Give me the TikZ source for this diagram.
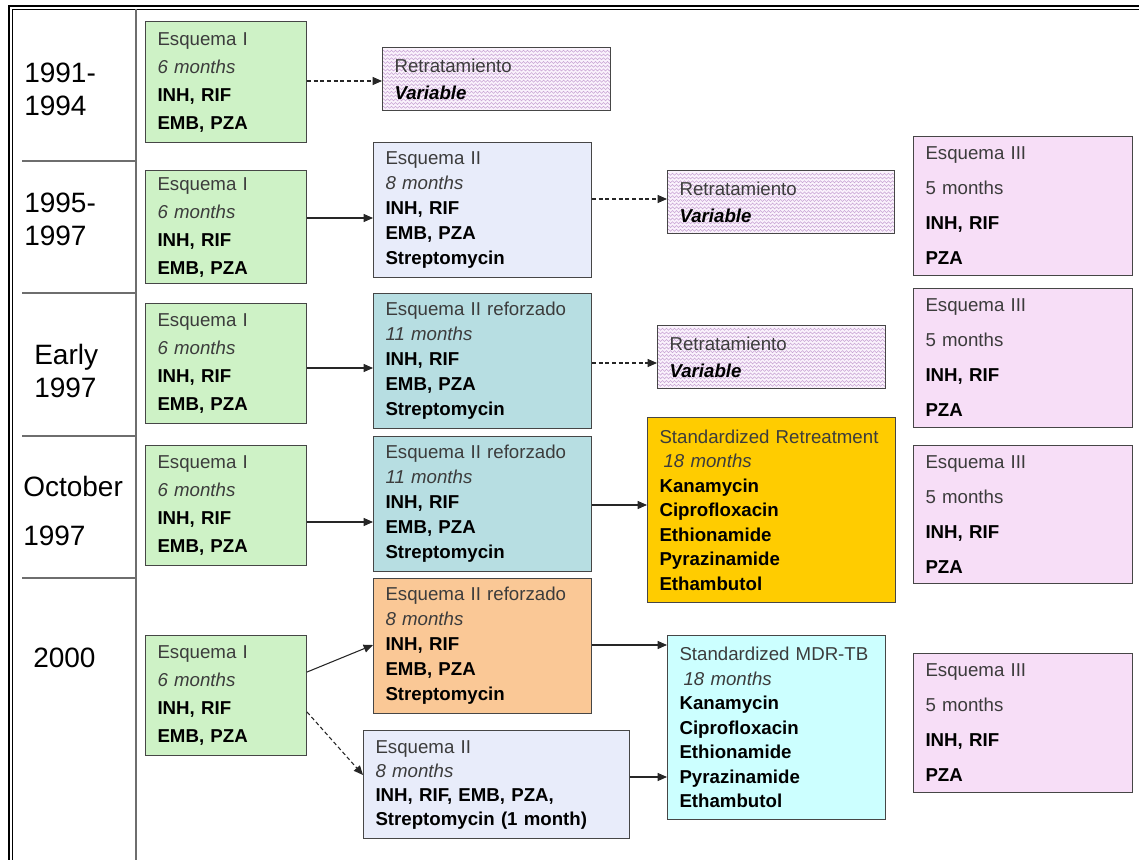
\documentclass[tikz,border=0pt]{standalone}
\usepackage{fontspec}
\setmainfont{Liberation Sans}
\usetikzlibrary{arrows.meta,positioning,decorations.pathmorphing}
\definecolor{boxline}{RGB}{70,70,70}
\definecolor{hdgray}{RGB}{60,60,60}
\definecolor{sepgray}{RGB}{110,110,110}
\definecolor{esqI}{RGB}{206,242,198}
\definecolor{esqII}{RGB}{232,236,250}
\definecolor{esqIIr}{RGB}{183,222,226}
\definecolor{esqIIo}{RGB}{250,200,150}
\definecolor{esqIII}{RGB}{247,222,247}
\definecolor{stdret}{RGB}{255,204,0}
\definecolor{stdmdr}{RGB}{204,255,255}
\definecolor{retfill}{RGB}{250,242,252}
\definecolor{retline}{RGB}{200,165,212}
\newcommand{\boxhead}[1]{\textcolor{hdgray}{#1}}
\newcommand{\boxterm}[1]{\textcolor{hdgray}{\itshape #1}}

\begin{document}
\begin{tikzpicture}[
  x=0.75pt, y=-0.75pt,
  box/.style n args={3}{draw=boxline, line width=0.8pt, anchor=north west,
                        align=left, inner xsep=9pt, inner ysep=0pt,
                        text width=#1*0.75pt-18pt, minimum height=#2*0.75pt,
                        font=\fontsize{14}{#3}\selectfont},
  zz/.style={draw=retline, line width=0.4pt, decorate,
             decoration={zigzag, segment length=3pt, amplitude=0.8pt}},
  retbox/.style={box={#1}{63}{20pt}, fill=retfill,
                 path picture={
                   \foreach \k in {1,...,17}
                     \draw[zz] ([yshift=-\k*2.8pt]path picture bounding box.north west)
                            -- ([yshift=-\k*2.8pt]path picture bounding box.north east);}},
  yr/.style={anchor=west, align=left, inner sep=0pt,
             font=\fontsize{21}{24.75}\selectfont},
  sep/.style={draw=sepgray, line width=1pt},
  arr/.style={-{Triangle[length=7pt,width=6pt]}, draw=black!85, line width=0.8pt},
  darr/.style={arr, dash pattern=on 3pt off 2pt}
]
\useasboundingbox (0,0) rectangle (1139,860);

% frame and year column
\draw[line width=1.7pt] (9.3,860) -- (9.3,6) -- (1139,6);
\draw[line width=1.2pt] (12.4,860) -- (12.4,9.3) -- (1139,9.3);
\draw[sep] (136,9.3) -- (136,860);
\foreach \yy in {161,293,436,578}
  \draw[sep] (22,\yy) -- (136,\yy);

\node[yr] (y91)  at (24,89)  {1991-\\1994};
\node[yr] (y95)  at (24,219) {1995-\\1997};
\node[yr] (y97)  at (34,371) {Early\\ 1997};
\node[yr] (y97b) at (23,511) {October\\[12pt]1997};
\node[yr] (y00)  at (33,658) {2000};

% Esquema I
\node[box={161}{121}{21pt}, fill=esqI] (g91) at (145,21)
  {\boxhead{Esquema I}\\ \boxterm{6 months}\\ \textbf{INH, RIF}\\ \textbf{EMB, PZA}};
\node[box={161}{113}{21pt}, fill=esqI] (g95) at (145,170)
  {\boxhead{Esquema I}\\ \boxterm{6 months}\\ \textbf{INH, RIF}\\ \textbf{EMB, PZA}};
\node[box={161}{120}{21pt}, fill=esqI] (g97) at (145,303)
  {\boxhead{Esquema I}\\ \boxterm{6 months}\\ \textbf{INH, RIF}\\ \textbf{EMB, PZA}};
\node[box={161}{120}{21pt}, fill=esqI] (g97b) at (145,445)
  {\boxhead{Esquema I}\\ \boxterm{6 months}\\ \textbf{INH, RIF}\\ \textbf{EMB, PZA}};
\node[box={161}{120}{21pt}, fill=esqI] (g00) at (145,635)
  {\boxhead{Esquema I}\\ \boxterm{6 months}\\ \textbf{INH, RIF}\\ \textbf{EMB, PZA}};

% Retratamiento
\node[retbox=228] (r91) at (382,47)
  {\boxhead{Retratamiento}\\ \textbf{\itshape Variable}};
\node[retbox=227] (r95) at (667,170)
  {\boxhead{Retratamiento}\\ \textbf{\itshape Variable}};
\node[retbox=228] (r97) at (657,325)
  {\boxhead{Retratamiento}\\ \textbf{\itshape Variable}};

% Esquema II
\node[box={218}{135}{18.75pt}, fill=esqII] (e95) at (373,142)
  {\boxhead{Esquema II}\\ \boxterm{8 months}\\ \textbf{INH, RIF}\\ \textbf{EMB, PZA}\\ \textbf{Streptomycin}};
\node[box={218}{135}{18.75pt}, fill=esqIIr] (t97) at (373,293)
  {\boxhead{Esquema II reforzado}\\ \boxterm{11 months}\\ \textbf{INH, RIF}\\ \textbf{EMB, PZA}\\ \textbf{Streptomycin}};
\node[box={218}{135}{18.75pt}, fill=esqIIr] (t97b) at (373,436)
  {\boxhead{Esquema II reforzado}\\ \boxterm{11 months}\\ \textbf{INH, RIF}\\ \textbf{EMB, PZA}\\ \textbf{Streptomycin}};
\node[box={218}{135}{18.75pt}, fill=esqIIo] (o00) at (373,578)
  {\boxhead{Esquema II reforzado}\\ \boxterm{8 months}\\ \textbf{INH, RIF}\\ \textbf{EMB, PZA}\\ \textbf{Streptomycin}};
\node[box={266}{108}{18pt}, fill=esqII] (e00) at (363,730)
  {\boxhead{Esquema II}\\ \boxterm{8 months}\\ \textbf{INH, RIF, EMB, PZA,}\\ \textbf{Streptomycin (1 month)}};

% standardized regimens
\node[box={248}{185}{18.4pt}, fill=stdret] (sr97b) at (647,417)
  {\boxhead{Standardized Retreatment}\\ \hspace{3pt}\boxterm{18 months}\\ \textbf{Kanamycin}\\
   \textbf{Ciprofloxacin}\\ \textbf{Ethionamide}\\ \textbf{Pyrazinamide}\\ \textbf{Ethambutol}};
\node[box={218}{184}{18.4pt}, fill=stdmdr] (mdr00) at (667,635)
  {\boxhead{Standardized MDR-TB}\\ \hspace{3pt}\boxterm{18 months}\\ \textbf{Kanamycin}\\
   \textbf{Ciprofloxacin}\\ \textbf{Ethionamide}\\ \textbf{Pyrazinamide}\\ \textbf{Ethambutol}};

% Esquema III
\node[box={219}{139}{26.25pt}, fill=esqIII] (s95) at (913,136)
  {\boxhead{Esquema III}\\ \boxhead{5 months}\\ \textbf{INH, RIF}\\ \textbf{PZA}};
\node[box={219}{139}{26.25pt}, fill=esqIII] (s97) at (913,288)
  {\boxhead{Esquema III}\\ \boxhead{5 months}\\ \textbf{INH, RIF}\\ \textbf{PZA}};
\node[box={219}{138}{26.25pt}, fill=esqIII] (s97b) at (913,445)
  {\boxhead{Esquema III}\\ \boxhead{5 months}\\ \textbf{INH, RIF}\\ \textbf{PZA}};
\node[box={219}{139}{26.25pt}, fill=esqIII] (s00) at (913,653)
  {\boxhead{Esquema III}\\ \boxhead{5 months}\\ \textbf{INH, RIF}\\ \textbf{PZA}};

% connectors
\draw[darr] (g91.east |- 0,81)   -- (r91.west |- 0,81);
\draw[arr]  (g95.east |- 0,218)  -- (e95.west |- 0,218);
\draw[darr] (e95.east |- 0,199)  -- (r95.west |- 0,199);
\draw[arr]  (g97.east |- 0,368)  -- (t97.west |- 0,368);
\draw[darr] (t97.east |- 0,363)  -- (r97.west |- 0,363);
\draw[arr]  (g97b.east |- 0,522) -- (t97b.west |- 0,522);
\draw[arr]  (t97b.east |- 0,505) -- (sr97b.west |- 0,505);
\draw[arr]  (g00.east |- 0,672)  -- (o00.west |- 0,645);
\draw[darr] (g00.east |- 0,712)  -- (e00.west |- 0,775);
\draw[arr]  (o00.east |- 0,645)  -- (mdr00.west |- 0,645);
\draw[arr]  (e00.east |- 0,777)  -- (mdr00.west |- 0,777);
\end{tikzpicture}
\end{document}
